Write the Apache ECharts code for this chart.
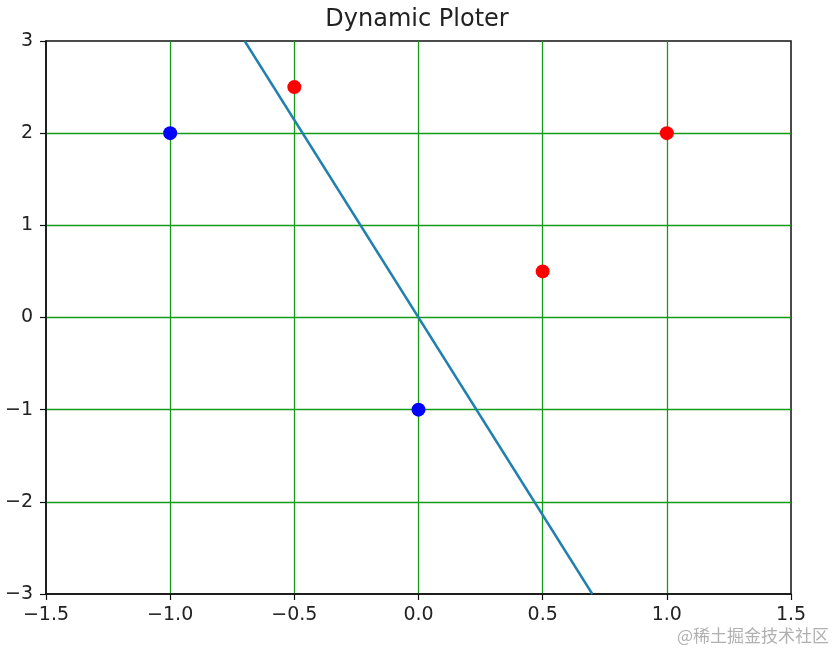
<!DOCTYPE html>
<html>
<head>
<meta charset="utf-8">
<script src="https://cdn.jsdelivr.net/npm/echarts@6/dist/echarts.min.js"></script>
<style>
  html, body { margin: 0; padding: 0; background: #fff; }
  #chart { width: 834px; height: 650px; }
</style>
</head>
<body>
<div id="chart"></div>
<script>
// data
const redPoints = [[-0.5, 2.5], [1.0, 2.0], [0.5, 0.5]];
const bluePoints = [[-1.0, 2.0], [0.0, -1.0]];
const boundaryLine = [[-0.7, 3.0], [0.7, -3.0]];

const xTicks = { min: -1.5, max: 1.5, interval: 0.5 };
const yTicks = { min: -3, max: 3, interval: 1 };

const chart = echarts.init(document.getElementById("chart"));
const textColor = "#222";
const font = "DejaVu Sans";
const gridGreen = "#169b16";

function minus(s) {
  return String(s).replace("-", "\u2212");
}

chart.setOption({
  animation: false,
  backgroundColor: "#fff",
  title: {
    text: "Dynamic Ploter",
    left: "center",
    top: 3,
    itemGap: 0,
    textStyle: { color: textColor, fontFamily: font, fontSize: 24, fontWeight: "normal" },
  },
  grid: {
    left: 46,
    right: 43,
    top: 41,
    bottom: 56,
    show: true,
    borderColor: "#111",
    borderWidth: 1.5,
    backgroundColor: "transparent",
  },
  xAxis: {
    type: "value",
    min: xTicks.min,
    max: xTicks.max,
    interval: xTicks.interval,
    axisLine: { show: true, onZero: false, lineStyle: { color: "#111", width: 1.5 } },
    axisTick: { show: true, inside: false, length: 6, lineStyle: { color: "#111", width: 1.2 } },
    axisLabel: {
      color: textColor,
      fontFamily: font,
      fontSize: 19,
      margin: 12,
      formatter: (v) => minus(v.toFixed(1)),
    },
    splitLine: {
      show: true,
      showMinLine: false,
      showMaxLine: false,
      lineStyle: { color: gridGreen, width: 1.3 },
    },
  },
  yAxis: {
    type: "value",
    min: yTicks.min,
    max: yTicks.max,
    interval: yTicks.interval,
    axisLine: { show: true, onZero: false, lineStyle: { color: "#111", width: 1.5 } },
    axisTick: { show: true, inside: false, length: 6, lineStyle: { color: "#111", width: 1.2 } },
    axisLabel: {
      color: textColor,
      fontFamily: font,
      fontSize: 19,
      margin: 13,
      formatter: (v) => minus(v),
    },
    splitLine: {
      show: true,
      showMinLine: false,
      showMaxLine: false,
      lineStyle: { color: gridGreen, width: 1.3 },
    },
  },
  graphic: [
    {
      type: "text",
      right: 5,
      bottom: 6,
      style: {
        text: "@稀土掘金技术社区",
        fill: "#b0b0b0",
        font: '17px "Noto Sans CJK SC"',
      },
    },
  ],
  series: [
    {
      type: "line",
      data: boundaryLine,
      symbol: "none",
      lineStyle: { color: "#1f7fae", width: 2.4 },
      z: 3,
    },
    {
      type: "scatter",
      data: redPoints,
      symbolSize: 14,
      itemStyle: { color: "#ff0000", opacity: 1 },
      z: 4,
    },
    {
      type: "scatter",
      data: bluePoints,
      symbolSize: 14,
      itemStyle: { color: "#0000ff", opacity: 1 },
      z: 4,
    },
  ],
});
</script>
</body>
</html>
